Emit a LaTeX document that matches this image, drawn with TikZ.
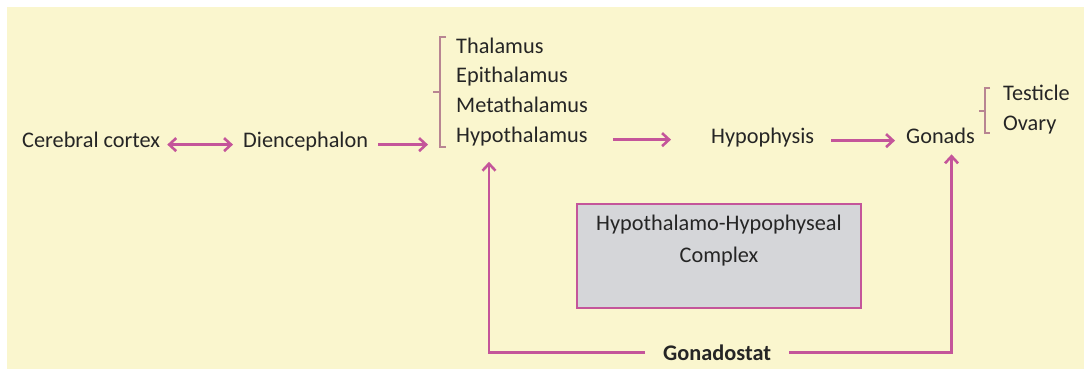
\documentclass[tikz,border=0pt]{standalone}
\usepackage{fontspec}
\setmainfont{Carlito}
\usetikzlibrary{arrows.meta}

\definecolor{cream}{HTML}{FAF6CE}
\definecolor{pinkline}{HTML}{C4559A}
\definecolor{bracecol}{HTML}{B88592}
\definecolor{boxgray}{HTML}{D5D6D9}
\definecolor{txt}{HTML}{252525}

\begin{document}
\begin{tikzpicture}[x=1pt, y=-1pt,
    label node/.style={inner sep=1pt, anchor=base west, text=txt, font=\fontsize{22.3}{26}\selectfont},
    flow/.style={draw=pinkline, line width=2.6pt},
    >={Straight Barb[length=7pt,width=13pt]},
    brace line/.style={draw=bracecol, line width=1.3pt},
    box line/.style={draw=pinkline, fill=boxgray, line width=2.2pt}]

  \useasboundingbox (0,0) rectangle (1084,373);
  \fill[cream] (7,7) rectangle (1084,369);

  % grey box behind the complex label
  \draw[box line] (577,204) rectangle (861,308);

  \node[label node] (cortex) at (21,147) {Cerebral cortex};
  \node[label node] (dien) at (242,147) {Diencephalon};

  \node[label node] (thal) at (455,53) {Thalamus};
  \node[label node] (epi) at (455,82) {Epithalamus};
  \node[label node] (meta) at (455,112) {Metathalamus};
  \node[label node] (hypo) at (455,142) {Hypothalamus};

  \node[label node] (hypoph) at (710,143) {Hypophysis};
  \node[label node] (gonads) at (905,143) {Gonads};

  \node[label node] (testicle) at (1002,100) {Testicle};
  \node[label node] (ovary) at (1002,130) {Ovary};

  \node[label node, anchor=center, align=center] (complex) at (719,241)
    {Hypothalamo-Hypophyseal\\[6pt]Complex};
  \node[label node, font=\fontsize{22.3}{26}\selectfont\bfseries] (gstat) at (662,360) {Gonadostat};

  % brackets
  \draw[brace line] (446,37) -- (440,37) -- (440,147) -- (446,147);
  \draw[brace line] (440,92) -- (433,92);
  \draw[brace line] (990,88) -- (985,88) -- (985,133) -- (990,133);
  \draw[brace line] (985,111) -- (979,111);

  \draw[flow,<->, shorten <=6pt, shorten >=9pt] (cortex.mid east) -- (dien.mid west);
  \draw[flow,->, shorten <=9pt] (dien.mid east) -- ([xshift=-27pt]dien.mid east -| hypo.west);
  \draw[flow,->, shorten <=24pt, shorten >=39pt] (hypo.mid east) -- (hypo.mid east -| hypoph.west);
  \draw[flow,->, shorten <=16pt, shorten >=10pt] (hypoph.mid east) -- (hypoph.mid east -| gonads.west);

  \draw[flow,->] ([xshift=-17pt]gstat.west) -| ([shift={(34,15)}]hypo.south west);
  \draw[flow,->] ([xshift=17pt]gstat.east) -| ([shift={(11,10)}]gonads.south);
\end{tikzpicture}
\end{document}
